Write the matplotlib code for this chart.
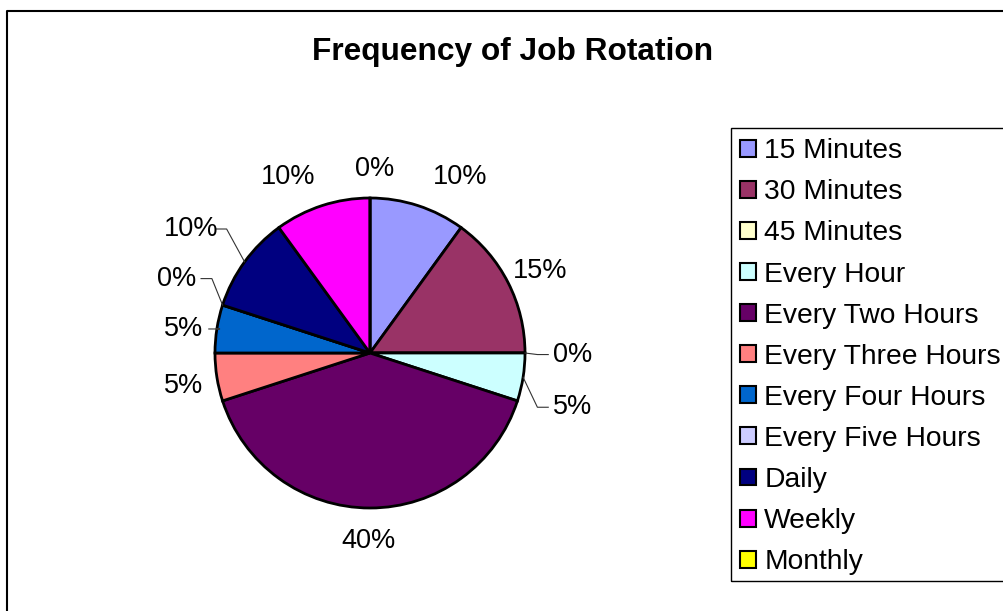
import matplotlib
matplotlib.use("Agg")
import matplotlib.pyplot as plt
import numpy as np
from matplotlib.lines import Line2D
from matplotlib.patches import Rectangle

plt.rcParams['font.family'] = ['Liberation Sans', 'DejaVu Sans']

categories = ["15 Minutes", "30 Minutes", "45 Minutes", "Every Hour", "Every Two Hours",
              "Every Three Hours", "Every Four Hours", "Every Five Hours", "Daily",
              "Weekly", "Monthly"]
percentages = [10, 15, 0, 5, 40, 5, 5, 0, 10, 10, 0]
colors = ["#9999FF", "#993366", "#FFFFCC", "#CCFFFF", "#660066", "#FF8080",
          "#0066CC", "#CCCCFF", "#000080", "#FF00FF", "#FFFF00"]
title = "Frequency of Job Rotation"

# layout: label positions (pie-radius units) and which labels get leader lines
label_pos = [(0.58, 1.135), (1.10, 0.53), (1.31, -0.01), (1.31, -0.35), (-0.01, -1.21),
             (-1.20, -0.21), (-1.20, 0.155), (-1.25, 0.48), (-1.155, 0.80),
             (-0.53, 1.135), (0.03, 1.19)]
leader = [False, False, True, True, False, False, True, True, True, False, False]

W, H = 1004, 611
fig = plt.figure(figsize=(W / 100, H / 100), dpi=100)
cx, cy, R = 370, 353, 155
ax = fig.add_axes([0, 0, 1, 1])

wedges, _ = ax.pie(percentages, colors=colors, startangle=90, counterclock=False,
                   radius=1.0, center=(0, 0), frame=True,
                   wedgeprops=dict(edgecolor='black', linewidth=2))
ax.set_xlim(-cx / R, (W - cx) / R)
ax.set_ylim(-(H - cy) / R, cy / R)
ax.axis('off')

total = sum(percentages)
cum = 0
for i, p in enumerate(percentages):
    mid = 90 - (cum + p / 2) / total * 360
    cum += p
    lx, ly = label_pos[i]
    ax.text(lx, ly, f"{p}%", ha='center', va='center', fontsize=19.5)
    if leader[i]:
        ex, ey = np.cos(np.radians(mid)), np.sin(np.radians(mid))
        side = np.sign(lx)
        endx = lx - side * 0.16
        kx = endx - side * 0.07
        ax.plot([ex, kx, endx], [ey, ly, ly], color='#333333', lw=0.8)

fig.text(513 / W, 1 - 52 / H, title, ha='center', va='center', fontsize=22.8, fontweight='bold')

leg = fig.legend(wedges, categories, loc='upper left',
                 bbox_to_anchor=(731 / W, 1 - 129 / H), borderaxespad=0,
                 prop={'size': 20.3}, frameon=False,
                 handlelength=0.55, handleheight=0.55, handletextpad=0.3,
                 labelspacing=0.535, borderpad=0.33)
for h in leg.legend_handles:
    h.set_linewidth(1.5)
    h.set_edgecolor('black')

# legend box (its right edge runs off the image in the reference)
fig.add_artist(Rectangle((731.5 / W, 1 - 580.5 / H), (1020 - 731.5) / W, (580.5 - 127.5) / H,
                         transform=fig.transFigure, fill=False, edgecolor='black', lw=1))

# chart-area border: only top and left edges are visible in the reference crop
fig.add_artist(Line2D([7.5 / W, 7.5 / W, 1.0], [0.0, 1 - 10.5 / H, 1 - 10.5 / H],
                      transform=fig.transFigure, color='black', lw=1.5))

fig.savefig("out.png", dpi=100)
